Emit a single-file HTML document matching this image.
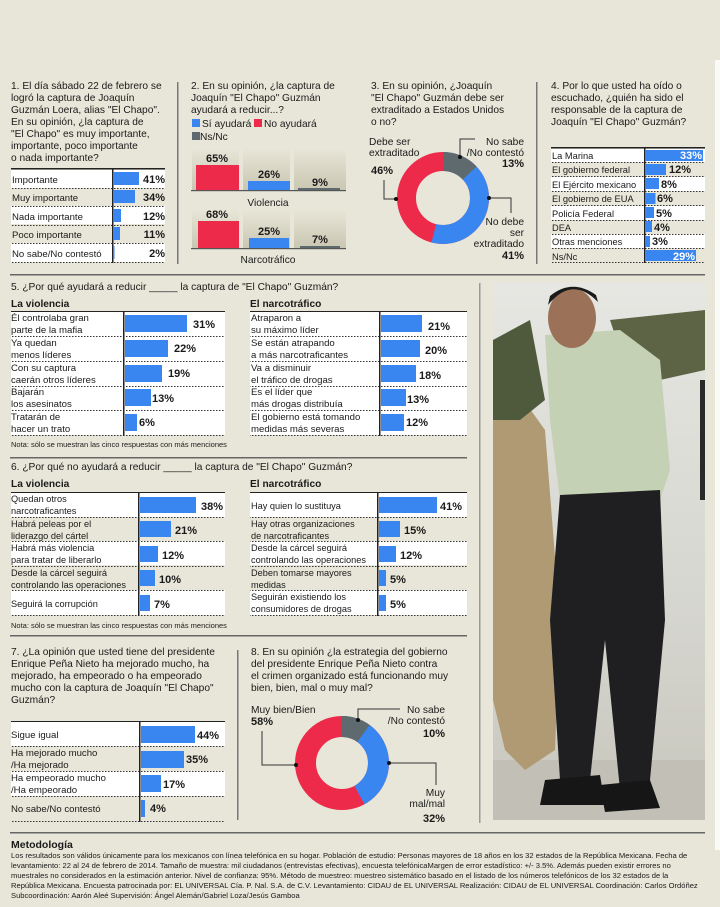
<!DOCTYPE html>
<html><head><meta charset="utf-8"><style>
html,body{margin:0;padding:0;background:#e8e6d8}
svg{display:block}
text{font-family:"Liberation Sans",sans-serif;fill:#1a1a1a}
.t{font-size:10.2px}
.u{font-size:9.6px}
.b{font-weight:bold}
.p{font-size:11px;font-weight:bold}
</style></head><body>
<svg width="720" height="907" viewBox="0 0 720 907" xmlns="http://www.w3.org/2000/svg">
<defs>
<pattern id="dot" width="3" height="1" patternUnits="userSpaceOnUse"><rect width="1.5" height="1" fill="#333"/></pattern>
<linearGradient id="pan" x1="0" y1="0" x2="0" y2="1"><stop offset="0" stop-color="#e8e6d8"/><stop offset="1" stop-color="#c9c6b2"/></linearGradient>
<linearGradient id="ph" x1="0" y1="0" x2="0" y2="1"><stop offset="0" stop-color="#e6e6e2"/><stop offset="0.6" stop-color="#d6d6d0"/><stop offset="1" stop-color="#c8c6bc"/></linearGradient>
</defs>
<rect width="720" height="907" fill="#e8e6d8"/>
<rect x="715" y="60" width="5" height="790" fill="#fafaf6"/>

<rect x="177" y="82" width="1.5" height="182" fill="#777"/>
<rect x="536" y="82" width="1.5" height="182" fill="#777"/>
<rect x="10" y="274" width="695" height="1.5" fill="#666"/>
<rect x="10" y="457" width="457" height="1.5" fill="#666"/>
<rect x="10" y="635" width="457" height="1.5" fill="#666"/>
<rect x="237" y="650" width="1.5" height="170" fill="#777"/>
<rect x="10" y="832" width="695" height="1.5" fill="#666"/>
<rect x="479" y="283" width="1.5" height="540" fill="#999"/>

<!-- Q1 -->
<g class="t">
<text x="11" y="89">1. El día sábado 22 de febrero se</text>
<text x="11" y="101">logró la captura de Joaquín</text>
<text x="11" y="113">Guzmán Loera, alias "El Chapo".</text>
<text x="11" y="125">En su opinión, ¿la captura de</text>
<text x="11" y="137">"El Chapo" es muy importante,</text>
<text x="11" y="149">importante, poco importante</text>
<text x="11" y="161">o nada importante?</text>
</g>
<rect x="11" y="168" width="154" height="1.5" fill="#222"/>
<g>
<rect x="11" y="170" width="154" height="18" fill="#fff"/>
<rect x="11" y="206" width="154" height="18" fill="#fff"/>
<rect x="11" y="243" width="154" height="19" fill="#fff"/>
<rect x="11" y="188" width="154" height="1" fill="url(#dot)"/>
<rect x="11" y="206" width="154" height="1" fill="url(#dot)"/>
<rect x="11" y="225" width="154" height="1" fill="url(#dot)"/>
<rect x="11" y="243" width="154" height="1" fill="url(#dot)"/>
<rect x="11" y="262" width="154" height="1" fill="url(#dot)"/>
<rect x="112" y="168" width="1.5" height="95" fill="#222"/>
<rect x="113" y="172" width="26" height="13" fill="#3a86f0"/>
<rect x="113" y="190" width="22" height="13" fill="#3a86f0"/>
<rect x="113" y="209" width="8" height="13" fill="#3a86f0"/>
<rect x="113" y="227" width="7" height="13" fill="#3a86f0"/>
<rect x="113" y="246" width="1.5" height="13" fill="#3a86f0"/>
<g class="u"><text x="12" y="183">Importante</text><text x="12" y="201">Muy importante</text><text x="12" y="220">Nada importante</text><text x="12" y="238">Poco importante</text><text x="12" y="257">No sabe/No contestó</text></g>
<g class="p" text-anchor="end"><text x="165" y="183">41%</text><text x="165" y="201">34%</text><text x="165" y="220">12%</text><text x="165" y="238">11%</text><text x="165" y="257">2%</text></g>
</g>

<!-- Q2 -->
<g class="t">
<text x="191" y="89">2. En su opinión, ¿la captura de</text>
<text x="191" y="101">Joaquín "El Chapo" Guzmán</text>
<text x="191" y="113">ayudará a reducir...?</text>
<rect x="192" y="119" width="8" height="8" fill="#3a86f0"/><text x="202" y="127">Sí ayudará</text>
<rect x="254" y="119" width="8" height="8" fill="#ee2a4a"/><text x="264" y="127">No ayudará</text>
<rect x="192" y="132" width="8" height="8" fill="#5f6a6f"/><text x="200" y="140">Ns/Nc</text>
</g>
<rect x="192" y="148" width="47" height="42" fill="url(#pan)"/>
<rect x="243" y="148" width="47" height="42" fill="url(#pan)"/>
<rect x="294" y="148" width="52" height="42" fill="url(#pan)"/>
<rect x="191" y="190" width="155" height="1.2" fill="#555"/>
<rect x="196" y="165" width="43" height="25" fill="#ee2a4a"/>
<rect x="248" y="181" width="42" height="9" fill="#3a86f0"/>
<rect x="298" y="188" width="42" height="2" fill="#5f6a6f"/>
<g class="p" text-anchor="middle"><text x="217" y="162">65%</text><text x="269" y="178">26%</text><text x="320" y="186">9%</text></g>
<text class="t" x="268" y="206" text-anchor="middle">Violencia</text>
<rect x="192" y="210" width="47" height="38" fill="url(#pan)"/>
<rect x="243" y="210" width="47" height="38" fill="url(#pan)"/>
<rect x="294" y="210" width="52" height="38" fill="url(#pan)"/>
<rect x="191" y="248" width="155" height="1.2" fill="#555"/>
<rect x="198" y="221" width="41" height="27" fill="#ee2a4a"/>
<rect x="249" y="238" width="40" height="10" fill="#3a86f0"/>
<rect x="300" y="246" width="40" height="2" fill="#5f6a6f"/>
<g class="p" text-anchor="middle"><text x="217" y="218">68%</text><text x="269" y="235">25%</text><text x="320" y="243">7%</text></g>
<text class="t" x="268" y="263" text-anchor="middle">Narcotráfico</text>

<!-- Q3 -->
<g class="t">
<text x="371" y="89">3. En su opinión, ¿Joaquín</text>
<text x="371" y="101">"El Chapo" Guzmán debe ser</text>
<text x="371" y="113">extraditado a Estados Unidos</text>
<text x="371" y="125">o no?</text>
<text x="369" y="145">Debe ser</text>
<text x="369" y="156">extraditado</text>
<text x="524" y="145" text-anchor="end">No sabe</text>
<text x="524" y="156" text-anchor="end">/No contestó</text>
<text x="524" y="225" text-anchor="end">No debe</text>
<text x="524" y="236" text-anchor="end">ser</text>
<text x="524" y="247" text-anchor="end">extraditado</text>
</g>
<g class="p"><text x="371" y="174">46%</text><text x="524" y="167" text-anchor="end">13%</text><text x="524" y="259" text-anchor="end">41%</text></g>
<g transform="rotate(-90 443 198)" fill="none" stroke-width="19">
<circle cx="443" cy="198" r="36.5" stroke="#ee2a4a"/>
<circle cx="443" cy="198" r="36.5" stroke="#3a86f0" stroke-dasharray="123.8 229.3"/>
<circle cx="443" cy="198" r="36.5" stroke="#5f6a6f" stroke-dasharray="29.8 229.3"/>
</g>
<g fill="none" stroke="#333" stroke-width="1"><polyline points="460,156 460,139 475,139"/><polyline points="395,199 384,199 384,180"/><polyline points="489,198 511,198 511,213"/></g>
<circle cx="460" cy="157" r="2" fill="#111"/><circle cx="396" cy="199" r="2" fill="#111"/><circle cx="489" cy="198" r="2" fill="#111"/>

<!-- Q4 -->
<g class="t">
<text x="551" y="89">4. Por lo que usted ha oído o</text>
<text x="551" y="101">escuchado, ¿quién ha sido el</text>
<text x="551" y="113">responsable de la captura de</text>
<text x="551" y="125">Joaquín "El Chapo" Guzmán?</text>
</g>
<rect x="551" y="147" width="154" height="1.5" fill="#222"/>
<g fill="#fff"><rect x="551" y="149" width="154" height="13"/><rect x="551" y="177" width="154" height="14"/><rect x="551" y="206" width="154" height="14"/><rect x="551" y="234" width="154" height="14"/></g>
<g fill="url(#dot)"><rect x="551" y="162" width="154" height="1"/><rect x="551" y="176" width="154" height="1"/><rect x="551" y="191" width="154" height="1"/><rect x="551" y="205" width="154" height="1"/><rect x="551" y="220" width="154" height="1"/><rect x="551" y="234" width="154" height="1"/><rect x="551" y="248" width="154" height="1"/><rect x="551" y="262" width="154" height="1"/></g>
<rect x="644" y="147" width="1.5" height="116" fill="#222"/>
<g fill="#3a86f0"><rect x="645" y="150" width="58" height="11"/><rect x="645" y="164" width="21" height="11"/><rect x="645" y="178" width="14" height="11"/><rect x="645" y="193" width="10.5" height="11"/><rect x="645" y="207" width="9" height="11"/><rect x="645" y="221" width="7" height="11"/><rect x="645" y="236" width="5" height="11"/><rect x="645" y="250" width="51" height="11"/></g>
<g class="u" style="font-size:9.3px"><text x="552" y="159">La Marina</text><text x="552" y="173">El gobierno federal</text><text x="552" y="188">El Ejército mexicano</text><text x="552" y="202">El gobierno de EUA</text><text x="552" y="217">Policía Federal</text><text x="552" y="231">DEA</text><text x="552" y="245">Otras menciones</text><text x="552" y="260">Ns/Nc</text></g>
<g class="p"><text x="702" y="159" text-anchor="end" style="fill:#fff">33%</text><text x="669" y="173">12%</text><text x="661" y="188">8%</text><text x="657" y="202">6%</text><text x="656" y="217">5%</text><text x="654" y="231">4%</text><text x="652" y="245">3%</text><text x="695" y="260" text-anchor="end" style="fill:#fff">29%</text></g>

<!-- Q5 -->
<text class="t" x="11" y="290">5. ¿Por qué ayudará a reducir _____ la captura de "El Chapo" Guzmán?</text>
<text class="t b" x="11" y="307">La violencia</text>
<text class="t b" x="250" y="307">El narcotráfico</text>
<rect x="11" y="311" width="214" height="1.2" fill="#222"/>
<rect x="250" y="311" width="217" height="1.2" fill="#222"/>
<g fill="#fff"><rect x="11" y="312" width="214" height="123"/><rect x="250" y="312" width="217" height="123"/></g>
<g fill="url(#dot)"><rect x="11" y="336" width="214" height="1"/><rect x="11" y="361" width="214" height="1"/><rect x="11" y="386" width="214" height="1"/><rect x="11" y="410" width="214" height="1"/><rect x="11" y="435" width="214" height="1"/>
<rect x="250" y="336" width="217" height="1"/><rect x="250" y="361" width="217" height="1"/><rect x="250" y="386" width="217" height="1"/><rect x="250" y="410" width="217" height="1"/><rect x="250" y="435" width="217" height="1"/></g>
<rect x="123" y="311" width="1.5" height="125" fill="#222"/><rect x="379" y="311" width="1.5" height="125" fill="#222"/>
<g fill="#3a86f0"><rect x="125" y="315" width="62" height="17"/><rect x="125" y="340" width="43" height="17"/><rect x="125" y="365" width="37" height="17"/><rect x="125" y="389" width="26" height="17"/><rect x="125" y="414" width="12" height="17"/>
<rect x="381" y="315" width="41" height="17"/><rect x="381" y="340" width="39" height="17"/><rect x="381" y="365" width="35" height="17"/><rect x="381" y="389" width="25" height="17"/><rect x="381" y="414" width="23" height="17"/></g>
<g class="u"><text x="11" y="321">Él controlaba gran</text><text x="11" y="333">parte de la mafia</text><text x="11" y="346">Ya quedan</text><text x="11" y="358">menos líderes</text><text x="11" y="371">Con su captura</text><text x="11" y="383">caerán otros líderes</text><text x="11" y="395">Bajarán</text><text x="11" y="407">los asesinatos</text><text x="11" y="420">Tratarán de</text><text x="11" y="432">hacer un trato</text>
<text x="251" y="321">Atraparon a</text><text x="251" y="333">su máximo líder</text><text x="251" y="346">Se están atrapando</text><text x="251" y="358">a más narcotraficantes</text><text x="251" y="371">Va a disminuir</text><text x="251" y="383">el tráfico de drogas</text><text x="251" y="395">Es el líder que</text><text x="251" y="407">más drogas distribuía</text><text x="251" y="420">El gobierno está tomando</text><text x="251" y="432">medidas más severas</text></g>
<g class="p"><text x="193" y="328">31%</text><text x="174" y="352">22%</text><text x="168" y="377">19%</text><text x="152" y="402">13%</text><text x="139" y="426">6%</text>
<text x="428" y="330">21%</text><text x="425" y="354">20%</text><text x="419" y="379">18%</text><text x="407" y="403">13%</text><text x="406" y="426">12%</text></g>
<text x="11" y="447" style="font-size:7.5px">Nota: sólo se muestran las cinco respuestas con más menciones</text>

<!-- Q6 -->
<text class="t" x="11" y="470">6. ¿Por qué no ayudará a reducir _____ la captura de "El Chapo" Guzmán?</text>
<text class="t b" x="11" y="487">La violencia</text>
<text class="t b" x="250" y="487">El narcotráfico</text>
<rect x="11" y="492" width="214" height="1.2" fill="#222"/>
<rect x="250" y="492" width="217" height="1.2" fill="#222"/>
<g fill="#fff"><rect x="11" y="493" width="214" height="24"/><rect x="11" y="541" width="214" height="24"/><rect x="11" y="590" width="214" height="25"/><rect x="250" y="493" width="217" height="24"/><rect x="250" y="541" width="217" height="24"/><rect x="250" y="590" width="217" height="25"/></g>
<g fill="url(#dot)"><rect x="11" y="517" width="214" height="1"/><rect x="11" y="541" width="214" height="1"/><rect x="11" y="566" width="214" height="1"/><rect x="11" y="590" width="214" height="1"/><rect x="11" y="615" width="214" height="1"/>
<rect x="250" y="517" width="217" height="1"/><rect x="250" y="541" width="217" height="1"/><rect x="250" y="566" width="217" height="1"/><rect x="250" y="590" width="217" height="1"/><rect x="250" y="615" width="217" height="1"/></g>
<rect x="138" y="492" width="1.5" height="124" fill="#222"/><rect x="377" y="492" width="1.5" height="124" fill="#222"/>
<g fill="#3a86f0"><rect x="140" y="497" width="56" height="16"/><rect x="140" y="521" width="31" height="16"/><rect x="140" y="546" width="18" height="16"/><rect x="140" y="570" width="15" height="16"/><rect x="140" y="595" width="10" height="16"/>
<rect x="379" y="497" width="58" height="16"/><rect x="379" y="521" width="21" height="16"/><rect x="379" y="546" width="17" height="16"/><rect x="379" y="570" width="7" height="16"/><rect x="379" y="595" width="7" height="16"/></g>
<g class="u" style="font-size:9.2px"><text x="11" y="502">Quedan otros</text><text x="11" y="514">narcotraficantes</text><text x="11" y="527">Habrá peleas por el</text><text x="11" y="539">liderazgo del cártel</text><text x="11" y="551">Habrá más violencia</text><text x="11" y="563">para tratar de liberarlo</text><text x="11" y="576">Desde la cárcel seguirá</text><text x="11" y="588">controlando las operaciones</text><text x="11" y="607">Seguirá la corrupción</text>
<text x="251" y="509">Hay quien lo sustituya</text><text x="251" y="527">Hay otras organizaciones</text><text x="251" y="539">de narcotraficantes</text><text x="251" y="551">Desde la cárcel seguirá</text><text x="251" y="563">controlando las operaciones</text><text x="251" y="576">Deben tomarse mayores</text><text x="251" y="588">medidas</text><text x="251" y="600">Seguirán existiendo los</text><text x="251" y="612">consumidores de drogas</text></g>
<g class="p"><text x="201" y="510">38%</text><text x="175" y="534">21%</text><text x="162" y="559">12%</text><text x="159" y="583">10%</text><text x="154" y="608">7%</text>
<text x="440" y="510">41%</text><text x="404" y="534">15%</text><text x="400" y="559">12%</text><text x="390" y="583">5%</text><text x="390" y="608">5%</text></g>
<text x="11" y="628" style="font-size:7.5px">Nota: sólo se muestran las cinco respuestas con más menciones</text>

<!-- Q7 -->
<g class="t">
<text x="11" y="655">7. ¿La opinión que usted tiene del presidente</text>
<text x="11" y="667">Enrique Peña Nieto ha mejorado mucho, ha</text>
<text x="11" y="679">mejorado, ha empeorado o ha empeorado</text>
<text x="11" y="691">mucho con la captura de Joaquín "El Chapo"</text>
<text x="11" y="703">Guzmán?</text>
</g>
<rect x="11" y="721" width="214" height="1.2" fill="#222"/>
<g fill="#fff"><rect x="11" y="722" width="214" height="24"/><rect x="11" y="771" width="214" height="25"/></g>
<g fill="url(#dot)"><rect x="11" y="746" width="214" height="1"/><rect x="11" y="771" width="214" height="1"/><rect x="11" y="796" width="214" height="1"/><rect x="11" y="821" width="214" height="1"/></g>
<rect x="139" y="721" width="1.5" height="101" fill="#222"/>
<g fill="#3a86f0"><rect x="141" y="726" width="54" height="17"/><rect x="141" y="751" width="43" height="17"/><rect x="141" y="775" width="20" height="17"/><rect x="141" y="800" width="4" height="17"/></g>
<g class="u"><text x="11" y="738">Sigue igual</text><text x="11" y="756">Ha mejorado mucho</text><text x="11" y="768">/Ha mejorado</text><text x="11" y="781">Ha empeorado mucho</text><text x="11" y="793">/Ha empeorado</text><text x="11" y="812">No sabe/No contestó</text></g>
<g class="p"><text x="197" y="739">44%</text><text x="186" y="763">35%</text><text x="163" y="788">17%</text><text x="150" y="812">4%</text></g>

<!-- Q8 -->
<g class="t">
<text x="251" y="655">8. En su opinión ¿la estrategia del gobierno</text>
<text x="251" y="667">del presidente Enrique Peña Nieto contra</text>
<text x="251" y="679">el crimen organizado está funcionando muy</text>
<text x="251" y="691">bien, bien, mal o muy mal?</text>
<text x="251" y="713">Muy bien/Bien</text>
<text x="445" y="713" text-anchor="end">No sabe</text>
<text x="445" y="724" text-anchor="end">/No contestó</text>
<text x="445" y="796" text-anchor="end">Muy</text>
<text x="445" y="807" text-anchor="end">mal/mal</text>
</g>
<g class="p"><text x="251" y="725">58%</text><text x="445" y="737" text-anchor="end">10%</text><text x="445" y="822" text-anchor="end">32%</text></g>
<g transform="rotate(-90 342 763)" fill="none" stroke-width="21">
<circle cx="342" cy="763" r="36.5" stroke="#ee2a4a"/>
<circle cx="342" cy="763" r="36.5" stroke="#3a86f0" stroke-dasharray="96.3 229.3"/>
<circle cx="342" cy="763" r="36.5" stroke="#5f6a6f" stroke-dasharray="22.9 229.3"/>
</g>
<g fill="none" stroke="#333" stroke-width="1"><polyline points="358,720 358,709 400,709"/><polyline points="295,765 262,765 262,731"/><polyline points="389,763 436,763 436,785"/></g>
<circle cx="358" cy="720" r="2" fill="#111"/><circle cx="296" cy="765" r="2" fill="#111"/><circle cx="389" cy="763" r="2" fill="#111"/>

<!-- Photo -->
<rect x="493" y="283" width="212" height="537" fill="url(#ph)"/>
<rect x="493" y="760" width="212" height="60" fill="#c2c0b6"/>
<path d="M493,400 L520,395 L545,430 L560,620 L555,750 L525,770 L505,750 L493,700 Z" fill="#b09a74"/>
<path d="M493,340 L530,320 L545,400 L520,420 L493,420 Z" fill="#4f5a3c"/>
<path d="M610,320 L705,310 L705,370 L660,380 L620,350 Z" fill="#5d6446"/>
<path d="M545,335 L620,330 L660,360 L670,470 L660,500 L560,500 L550,420 Z" fill="#c4d1b4"/>
<path d="M560,495 L660,490 L665,620 L650,780 L620,790 L605,640 L590,780 L560,780 L550,620 Z" fill="#1f1f22"/>
<path d="M545,780 L600,775 L605,805 L540,805 Z" fill="#161616"/>
<path d="M600,785 L650,780 L660,808 L605,812 Z" fill="#161616"/>
<ellipse cx="572" cy="318" rx="24" ry="30" fill="#9b7258"/>
<path d="M548,305 Q572,275 598,302 L596,295 Q572,278 550,296 Z" fill="#1a1a1a"/>
<rect x="700" y="380" width="5" height="120" fill="#2a2a2a"/>

<!-- Methodology -->
<text x="11" y="848" style="font-size:10.5px;font-weight:bold">Metodología</text>
<g style="font-size:7.6px">
<text x="11" y="858">Los resultados son válidos únicamente para los mexicanos con línea telefónica en su hogar. Población de estudio: Personas mayores de 18 años en los 32 estados de la República Mexicana. Fecha de</text>
<text x="11" y="868">levantamiento: 22 al 24 de febrero de 2014. Tamaño de muestra: mil ciudadanos (entrevistas efectivas), encuesta telefónicaMargen de error estadístico: +/- 3.5%. Además pueden existir errores no</text>
<text x="11" y="878">muestrales no considerados en la estimación anterior. Nivel de confianza: 95%. Método de muestreo: muestreo sistemático basado en el listado de los números telefónicos de los 32 estados de la</text>
<text x="11" y="888">República Mexicana. Encuesta patrocinada por: EL UNIVERSAL Cía. P. Nal. S.A. de C.V. Levantamiento: CIDAU de EL UNIVERSAL Realización: CIDAU de EL UNIVERSAL Coordinación: Carlos Ordóñez</text>
<text x="11" y="898">Subcoordinación: Aarón Aleé Supervisión: Ángel Alemán/Gabriel Loza/Jesús Gamboa</text>
</g>
</svg>
</body></html>
